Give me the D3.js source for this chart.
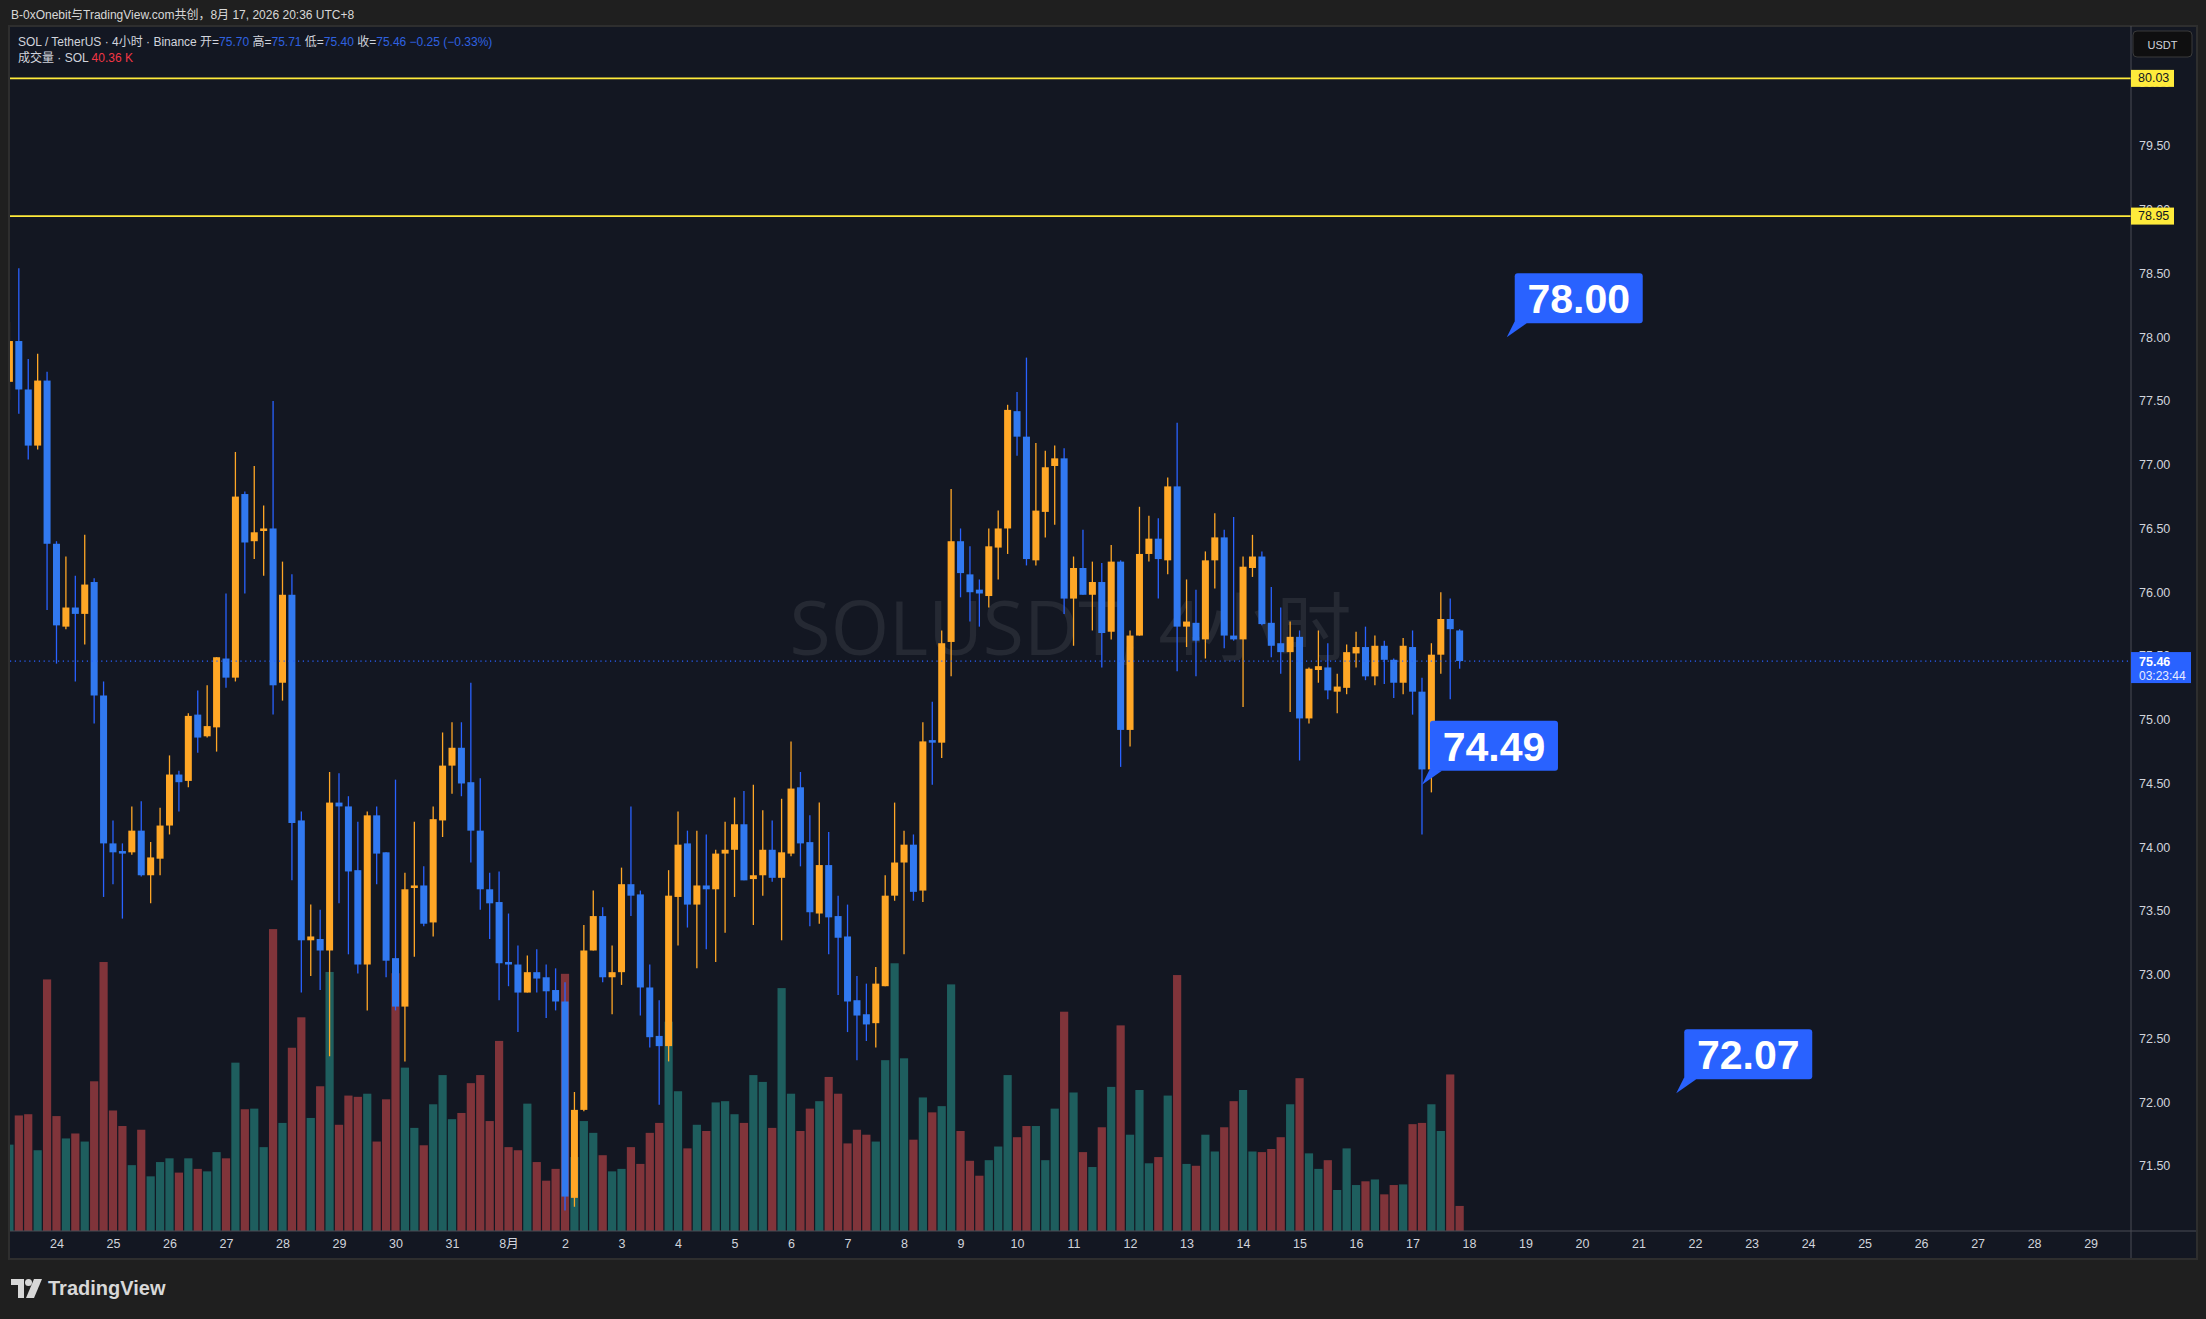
<!DOCTYPE html>
<html>
<head>
<meta charset="utf-8">
<script src="https://cdn.jsdelivr.net/npm/d3@7"></script>
<style>
body { margin: 0; background: #1f1f1f; }
text { font-family: "Liberation Sans", "Noto Sans CJK SC", sans-serif; }
</style>
</head>
<body>
<div id="chart"></div>
<script>
// SOL / TetherUS 4h bars, Jul 23 04:00 -> Aug 17 20:00 (UTC+8)
var firstBar = Date.UTC(2026, 6, 23, 4);
var barMs = 4 * 3600 * 1000;

var opens = [77.65,77.97,77.59,77.15,77.66,76.38,75.73,75.88,75.83,76.08,75.19,74.03,73.97,73.96,74.13,73.78,73.91,74.17,74.57,74.52,
  75.04,74.87,74.94,75.48,75.33,76.77,76.40,76.48,76.50,75.29,75.98,74.21,73.27,73.28,73.19,74.35,74.32,73.82,73.08,74.25,
  73.96,73.13,72.75,73.68,73.70,73.41,74.21,74.64,74.78,74.51,74.13,73.67,73.57,73.10,73.08,72.86,73.02,72.98,72.88,72.79,
  71.25,71.94,73.19,73.46,72.98,73.02,73.71,73.63,72.90,72.52,72.44,73.61,74.03,73.55,73.70,73.67,73.95,73.98,74.18,73.75,
  73.78,73.98,73.76,73.95,74.47,74.04,73.48,73.86,73.46,73.30,72.80,72.69,72.62,72.91,73.62,73.88,74.02,73.66,74.84,74.82,
  75.61,76.40,76.14,76.02,75.97,76.35,76.50,77.42,77.22,76.25,76.63,76.99,77.05,75.95,76.19,75.98,76.08,75.69,76.24,74.92,
  75.66,76.30,76.42,76.25,76.83,75.73,75.76,75.63,76.25,76.43,75.66,75.63,76.19,76.28,75.76,75.60,75.53,75.65,75.01,75.39,
  75.41,75.22,75.25,75.52,75.57,75.34,75.58,75.47,75.29,75.57,75.22,74.61,75.51,75.79,75.70];
var highs = [78.12,78.54,77.83,77.87,77.73,76.40,76.28,76.13,76.45,76.11,75.30,74.21,74.03,74.32,74.36,74.04,74.31,74.72,74.60,75.05,
  75.23,75.27,75.49,75.99,77.10,76.79,76.99,76.68,77.50,76.24,76.14,74.28,73.55,73.51,74.59,74.58,74.40,74.20,74.28,74.32,
  73.96,74.53,73.80,74.20,73.85,74.32,74.90,74.98,74.98,75.29,74.54,73.80,73.81,73.48,73.23,73.15,73.20,73.08,73.05,72.94,
  72.08,73.39,73.66,73.53,73.23,73.84,74.32,73.66,73.08,72.80,73.82,74.28,74.13,74.13,74.10,73.98,74.20,74.39,74.44,74.49,
  74.29,74.21,74.38,74.83,74.59,74.25,74.35,74.12,73.62,73.55,72.99,72.93,73.06,73.78,74.35,74.13,74.10,74.98,75.14,75.70,
  76.81,76.50,76.36,76.10,76.50,76.64,77.47,77.57,77.84,77.17,77.11,77.15,77.13,76.28,76.49,76.24,76.23,76.37,76.25,75.70,
  76.67,76.60,76.58,76.90,77.33,76.10,76.02,76.32,76.62,76.49,76.59,76.28,76.45,76.32,76.04,75.88,75.77,75.70,75.41,75.70,
  75.60,75.36,75.59,75.69,75.73,75.66,75.62,75.48,75.64,75.70,75.33,75.60,76.00,75.95,75.71];
var lows = [77.51,77.40,77.04,77.12,75.86,75.44,75.71,75.30,75.59,74.97,73.61,73.71,73.44,73.94,73.77,73.56,73.78,74.10,74.28,74.47,
  74.74,74.86,74.75,75.25,75.30,75.99,76.26,76.13,75.04,75.15,73.74,72.86,72.99,72.88,72.36,73.56,73.16,73.01,72.72,73.71,
  72.98,72.72,72.32,73.14,73.38,73.30,74.08,74.42,74.40,73.88,73.51,73.28,72.80,72.91,72.55,72.86,72.86,72.66,72.72,71.15,
  71.18,71.93,73.19,72.94,72.69,72.92,73.46,72.68,72.43,71.98,72.32,73.23,73.37,73.05,73.20,73.10,73.33,73.61,73.74,73.39,
  73.62,73.73,73.27,73.93,73.85,73.38,73.40,73.16,72.84,72.55,72.33,72.48,72.43,72.91,73.58,73.16,73.58,73.57,74.49,74.70,
  75.34,75.96,75.77,75.73,75.88,76.10,76.30,77.07,76.21,76.21,76.43,76.53,75.83,75.58,75.98,75.70,75.41,75.63,74.63,74.79,
  75.66,76.24,75.95,76.14,75.38,75.57,75.34,75.48,76.03,75.56,75.62,75.10,76.12,75.74,75.49,75.36,75.06,74.68,74.97,75.29,
  75.16,75.05,75.20,75.41,75.31,75.27,75.28,75.17,75.20,75.04,74.10,74.43,75.36,75.16,75.40];
var closes = [77.97,77.59,77.15,77.66,76.38,75.74,75.88,75.83,76.06,75.19,74.03,73.96,73.95,74.13,73.78,73.92,74.17,74.57,74.51,75.03,
  74.86,74.95,75.49,75.33,76.75,76.39,76.47,76.50,75.27,75.98,74.19,73.27,73.30,73.19,74.35,74.32,73.81,73.08,74.25,73.95,
  73.11,72.75,73.67,73.70,73.40,74.22,74.64,74.78,74.50,74.13,73.67,73.56,73.09,73.08,72.86,73.02,72.97,72.87,72.79,71.26,
  71.94,73.19,73.46,72.98,73.02,73.71,73.62,72.90,72.51,72.44,73.62,74.02,73.55,73.70,73.67,73.95,73.98,74.18,73.74,73.78,
  73.98,73.76,73.96,74.46,74.03,73.49,73.86,73.45,73.29,72.79,72.68,72.61,72.93,73.62,73.88,74.02,73.65,74.83,74.82,75.60,
  76.40,76.15,76.00,75.99,76.36,76.50,77.43,77.22,76.26,76.64,76.98,77.05,75.95,76.19,75.98,76.08,75.68,76.24,74.92,75.66,
  76.30,76.42,76.26,76.83,75.73,75.77,75.62,76.25,76.43,75.66,75.63,76.20,76.28,75.75,75.58,75.53,75.65,75.01,75.40,75.42,
  75.23,75.26,75.53,75.57,75.34,75.58,75.47,75.29,75.58,75.22,74.61,75.51,75.79,75.71,75.46];
// volume, thousands of SOL
var volumes = [139,186,188,130,405,185,149,157,144,241,433,194,169,106,163,88,111,117,94,117,
  100,96,127,117,271,196,197,135,486,174,295,344,182,233,417,171,218,216,221,144,
  212,415,263,166,138,204,251,180,190,238,251,177,306,135,130,205,111,81,100,414,
  119,177,158,122,96,100,135,108,158,174,337,225,133,171,161,207,209,188,174,251,
  240,166,391,221,161,197,209,248,221,141,163,155,144,275,431,278,147,215,191,201,
  397,161,113,89,114,136,251,151,169,169,114,197,353,223,127,103,167,232,331,155,
  227,109,119,218,412,108,105,155,128,167,209,227,128,127,132,151,204,246,125,100,
  114,66,133,74,80,83,59,74,75,172,174,204,161,252,40.36];

var priceTicks = d3.range(71.5, 80.01, 0.5);
var levelLines = [80.03, 78.95];
var lastPrice = 75.46;
var countdown = "03:23:44";

// price notes: time of tip, price
var noteTimes = [Date.UTC(2026, 7, 18, 16), Date.UTC(2026, 7, 17, 4), Date.UTC(2026, 7, 21, 16)];
var notePrices = [78.00, 74.49, 72.07];

var bars = opens.map(function (o, i) {
  return { t: new Date(firstBar + i * barMs), o: o, h: highs[i], l: lows[i], c: closes[i], v: volumes[i] };
});

var W = 2206, H = 1319;
var plotL = 10, plotR = 2131, plotT = 27, plotB = 1231;
var upCol = "#ffa726", downCol = "#3179f0", downWick = "#2962ff";

var svg = d3.select("#chart").append("svg")
  .attr("width", W).attr("height", H)
  .style("display", "block");

svg.append("rect").attr("width", W).attr("height", H).attr("fill", "#1f1f1f");

// pane
svg.append("rect")
  .attr("x", 9).attr("y", 26).attr("width", 2188).attr("height", 1233)
  .attr("fill", "#131722").attr("stroke", "#2e2e2e").attr("stroke-width", 2);

var x = d3.scaleUtc()
  .domain([new Date(firstBar), new Date(Date.UTC(2026, 7, 29, 0))])
  .range([9.4, 2090.6]);
var y = d3.scaleLinear().domain([70.99, 80.433]).range([plotB, plotT]);
var yVol = d3.scaleLinear().domain([0, 500]).range([plotB, 920.4]);

svg.append("clipPath").attr("id", "plotClip")
  .append("rect").attr("x", plotL).attr("y", plotT)
  .attr("width", plotR - plotL).attr("height", plotB - plotT);

var plot = svg.append("g").attr("clip-path", "url(#plotClip)");

// watermark
plot.append("text")
  .attr("x", (plotL + plotR) / 2).attr("y", 626)
  .attr("text-anchor", "middle").attr("dominant-baseline", "central")
  .style("font-family", "'Open Sans','Noto Sans CJK SC',sans-serif")
  .style("font-size", "75px")
  .attr("fill", "#252933")
  .text("SOLUSDT, 4小时");

// volume
plot.selectAll(".vol").data(bars).enter().append("rect")
  .attr("class", "vol")
  .attr("x", function (d) { return x(d.t) - 4.1; })
  .attr("width", 8.2)
  .attr("y", function (d) { return yVol(d.v); })
  .attr("height", function (d) { return plotB - yVol(d.v); })
  .attr("fill", function (d) { return d.c >= d.o ? "#1e5e5e" : "#80343a"; });

// candles
var candle = plot.selectAll(".candle").data(bars).enter().append("g").attr("class", "candle");
candle.append("line")
  .attr("x1", function (d) { return x(d.t); })
  .attr("x2", function (d) { return x(d.t); })
  .attr("y1", function (d) { return y(d.h); })
  .attr("y2", function (d) { return y(d.l); })
  .attr("stroke", function (d) { return d.c >= d.o ? upCol : downWick; })
  .attr("stroke-width", 1.3);
candle.append("rect")
  .attr("x", function (d) { return x(d.t) - 3.5; })
  .attr("width", 7)
  .attr("y", function (d) { return y(Math.max(d.o, d.c)); })
  .attr("height", function (d) { return Math.max(1.5, Math.abs(y(d.o) - y(d.c))); })
  .attr("fill", function (d) { return d.c >= d.o ? upCol : downCol; });

// horizontal levels
plot.selectAll(".level").data(levelLines).enter().append("line")
  .attr("x1", plotL).attr("x2", plotR)
  .attr("y1", function (d) { return y(d); })
  .attr("y2", function (d) { return y(d); })
  .attr("stroke", "#ffeb3b").attr("stroke-width", 1.6);

// last price line
plot.append("line")
  .attr("x1", plotL).attr("x2", plotR)
  .attr("y1", y(lastPrice)).attr("y2", y(lastPrice))
  .attr("stroke", "#2962ff").attr("stroke-width", 1.2)
  .attr("stroke-dasharray", "1.2,3.6");

// price notes
var note = plot.selectAll(".note").data(notePrices).enter().append("g").attr("class", "note");
note.each(function (p, i) {
  var g = d3.select(this);
  var tx = x(new Date(noteTimes[i])), ty = y(p);
  var bl = tx + 8, bb = ty - 14, bw = 128, bh = 50;
  g.append("path")
    .attr("d", "M" + bl + "," + (bb - 2) + "L" + (bl + 12) + "," + bb + "L" + tx + "," + ty + "Z")
    .attr("fill", "#2962ff");
  g.append("rect")
    .attr("x", bl).attr("y", bb - bh).attr("width", bw).attr("height", bh)
    .attr("rx", 3).attr("fill", "#2962ff");
  g.append("text")
    .attr("x", bl + bw / 2).attr("y", bb - bh / 2 + 1)
    .attr("text-anchor", "middle").attr("dominant-baseline", "central")
    .style("font-size", "41px").style("font-weight", "bold")
    .attr("fill", "#ffffff")
    .text(d3.format(".2f")(p));
});

// axes frame lines
svg.append("line").attr("x1", plotR).attr("x2", plotR).attr("y1", 26).attr("y2", 1258)
  .attr("stroke", "#4a4d55").attr("stroke-width", 1);
svg.append("line").attr("x1", 10).attr("x2", 2196).attr("y1", plotB).attr("y2", plotB)
  .attr("stroke", "#4a4d55").attr("stroke-width", 1);

// price axis
var yAxis = d3.axisRight(y).tickValues(priceTicks).tickFormat(d3.format(".2f")).tickSize(0).tickPadding(8);
var yg = svg.append("g").attr("transform", "translate(" + plotR + ",0)").call(yAxis);
yg.select(".domain").remove();
yg.selectAll("text").attr("fill", "#d1d4dc").style("font-size", "12.5px").style("font-family", "'Liberation Sans',sans-serif");

// time axis
var xAxis = d3.axisBottom(x).ticks(d3.utcDay.every(1)).tickSize(0).tickPadding(8)
  .tickFormat(function (d) { return d.getUTCDate() === 1 ? (d.getUTCMonth() + 1) + "月" : d.getUTCDate(); });
var xg = svg.append("g").attr("transform", "translate(0," + plotB + ")").call(xAxis);
xg.select(".domain").remove();
xg.selectAll("text").attr("fill", "#d1d4dc").style("font-size", "12.5px")
  .style("font-family", "'Liberation Sans','Noto Sans CJK SC',sans-serif");

// level labels on axis
var lab = svg.selectAll(".lvlLab").data(levelLines).enter().append("g");
lab.append("rect")
  .attr("x", plotR).attr("y", function (d) { return y(d) - 8.5; })
  .attr("width", 43).attr("height", 17).attr("fill", "#ffeb3b");
lab.append("text")
  .attr("x", plotR + 7).attr("y", function (d) { return y(d); })
  .attr("dominant-baseline", "central")
  .style("font-size", "12.5px").attr("fill", "#131722")
  .text(function (d) { return d3.format(".2f")(d); });

// last price label
svg.append("rect").attr("x", plotR).attr("y", y(lastPrice) - 9).attr("width", 60).attr("height", 31)
  .attr("fill", "#2962ff");
svg.append("text").attr("x", plotR + 8).attr("y", y(lastPrice) + 4.5)
  .style("font-size", "12.5px").style("font-weight", "bold").attr("fill", "#ffffff").text(d3.format(".2f")(lastPrice));
svg.append("text").attr("x", plotR + 8).attr("y", y(lastPrice) + 18.5)
  .style("font-size", "12px").attr("fill", "#e8ecff").text(countdown);

// currency button
svg.append("rect").attr("x", 2133).attr("y", 31).attr("width", 59).attr("height", 26).attr("rx", 4)
  .attr("fill", "#0f0f10").attr("stroke", "#3a3a3a");
svg.append("text").attr("x", 2162.5).attr("y", 44.5).attr("text-anchor", "middle").attr("dominant-baseline", "central")
  .style("font-size", "11px").attr("fill", "#d1d4dc").text("USDT");

// header
svg.append("text").attr("x", 11).attr("y", 19).style("font-size", "12px").attr("fill", "#d8d8d8")
  .text("B-0xOnebit与TradingView.com共创，8月 17, 2026 20:36 UTC+8");

// legend (change is against the previous bar's close)
var last = bars[bars.length - 1];
var prevClose = closes[closes.length - 2];
var chg = last.c - prevClose;
var blue = "#2f62e0";
var leg = svg.append("text").attr("x", 18).attr("y", 46).style("font-size", "12px").attr("fill", "#d1d4dc");
leg.append("tspan").text("SOL / TetherUS · 4小时 · Binance  开=");
leg.append("tspan").attr("fill", blue).text(d3.format(".2f")(last.o));
leg.append("tspan").text("  高=");
leg.append("tspan").attr("fill", blue).text(d3.format(".2f")(last.h));
leg.append("tspan").text("  低=");
leg.append("tspan").attr("fill", blue).text(d3.format(".2f")(last.l));
leg.append("tspan").text("  收=");
leg.append("tspan").attr("fill", blue).text(d3.format(".2f")(last.c));
leg.append("tspan").attr("fill", blue)
  .text("  " + d3.format(".2f")(chg).replace("-", "−") + " (" + d3.format(".2%")(chg / prevClose).replace("-", "−") + ")");
var leg2 = svg.append("text").attr("x", 18).attr("y", 62).style("font-size", "12px").attr("fill", "#d1d4dc");
leg2.append("tspan").text("成交量 · SOL  ");
leg2.append("tspan").attr("fill", "#f23645").text(d3.format(".2f")(last.v) + " K");

// logo
var logo = svg.append("g").attr("fill", "#d8d8d8");
logo.append("path").attr("d", "M11,1279H24V1298H18V1285H11Z");
logo.append("circle").attr("cx", 28.5).attr("cy", 1282.5).attr("r", 3.5);
logo.append("path").attr("d", "M34,1279H42L34,1298H26Z");
logo.append("text").attr("x", 48).attr("y", 1295).style("font-size", "20px").style("font-weight", "bold")
  .attr("fill", "#d8d8d8").text("TradingView");
</script>
</body>
</html>
